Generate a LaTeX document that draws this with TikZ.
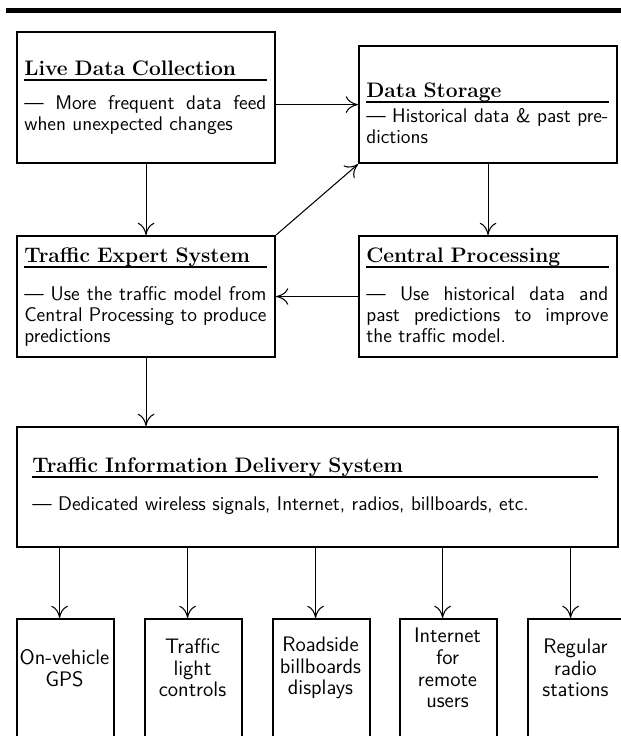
\documentclass[tikz,border=0pt]{standalone}
\usetikzlibrary{arrows.meta}
\begin{document}
\begin{tikzpicture}[x=0.5714pt,y=-0.5714pt,
  box/.style={draw, line width=1.2pt, rectangle, inner sep=0pt, anchor=north west},
  ttl/.style={font=\large\bfseries, inner sep=0pt, anchor=base west, text width=138.3pt},
  bdy/.style={font=\sffamily\fontsize{11.3}{12}\selectfont, inner sep=0pt, anchor=base west, align=justify, text width=138.3pt},
  uline/.style={line width=1.2pt},
  arr/.style={line width=0.6pt, -{To[length=7pt,width=9.5pt]}},
  leaf/.style={font=\sffamily\fontsize{12}{12.4}\selectfont, align=center, inner sep=0pt},
  smallbox/.style={box, minimum width=55.4pt, minimum height=85.7pt},
  midbox/.style={box, minimum width=147.4pt}]
\useasboundingbox (0,0) rectangle (621,736);
\clip (0,0) rectangle (621,736);
\draw[line width=2.3pt] (6,10.5) -- (621,10.5);
% Live data collection
\node[midbox, minimum height=74.9pt] (live) at (16,31) {};
\node[ttl] (lt) at (24,75) {Live Data Collection};
\draw[uline] ([yshift=-3pt]lt.base west) -- ([yshift=-3pt]lt.base east);
\node[bdy] (lb) at (24,109) {--- More frequent data feed\linebreak when unexpected changes};
% Data storage
\node[midbox, minimum height=66.9pt] (ds) at (358,45) {};
\node[ttl] (dt) at (366,97) {Data Storage};
\draw[uline] ([yshift=-3pt]dt.base west) -- ([yshift=-3pt]dt.base east);
\node[bdy] (db) at (366,122) {--- Historical data \& past pre-\linebreak dictions};
% Traffic expert system
\node[midbox, minimum height=69.1pt] (tes) at (16,235) {};
\node[ttl] (tt) at (24,262) {Traffic Expert System};
\draw[uline] ([yshift=-3pt]tt.base west) -- ([yshift=-3pt]tt.base east);
\node[bdy] (tb) at (24,300) {--- Use the traffic model from\linebreak Central Processing to produce\linebreak predictions};
% Central processing
\node[midbox, minimum height=69.1pt] (cp) at (358,235) {};
\node[ttl] (ct) at (366,262) {Central Processing};
\draw[uline] ([yshift=-3pt]ct.base west) -- ([yshift=-3pt]ct.base east);
\node[bdy] (cb) at (366,300) {--- Use historical data and\linebreak past predictions to improve\linebreak the traffic model.};
% Delivery system
\node[box, minimum width=343.4pt, minimum height=68.6pt] (tids) at (16,426) {};
\node[ttl, text width=322.9pt] (it) at (32,472) {Traffic Information Delivery System};
\draw[uline] ([yshift=-3pt]it.base west) -- ([yshift=-3pt]it.base east);
\node[bdy, text width=322.9pt] (ib) at (32,510) {--- Dedicated wireless signals, Internet, radios, billboards, etc.};
% Bottom boxes
\node[smallbox] (b1) at (16,618) {};
\node[smallbox] (b2) at (144,618) {};
\node[smallbox] (b3) at (272,618) {};
\node[smallbox] (b4) at (399,618) {};
\node[smallbox] (b5) at (527,618) {};
\node[leaf] (l1) at (64.5,668) {On-vehicle\\GPS};
\node[leaf] (l2) at (192.5,668) {Traffic\\light\\controls};
\node[leaf] (l3) at (320.5,668) {Roadside\\billboards\\displays};
\node[leaf] (l4) at (447.5,668) {Internet\\for\\remote\\users};
\node[leaf] (l5) at (575.5,668) {Regular\\radio\\stations};
% Connectors
\draw[arr] (live.south) -- (tes.north);
\draw[arr] (ds.south) -- (cp.north);
\draw[arr] (tes.south) -- (tes.south |- tids.north);
\draw[arr] (live.east |- ds.west) -- (ds.west);
\draw[arr] (cp.west) -- (tes.east);
\draw[arr] (tes.north east) -- (ds.south west);
\foreach \b in {b1,b2,b3,b4,b5}
  \draw[arr] ([xshift=-3.4pt]\b.north |- tids.south) -- ([xshift=-3.4pt]\b.north);
\end{tikzpicture}
\end{document}
